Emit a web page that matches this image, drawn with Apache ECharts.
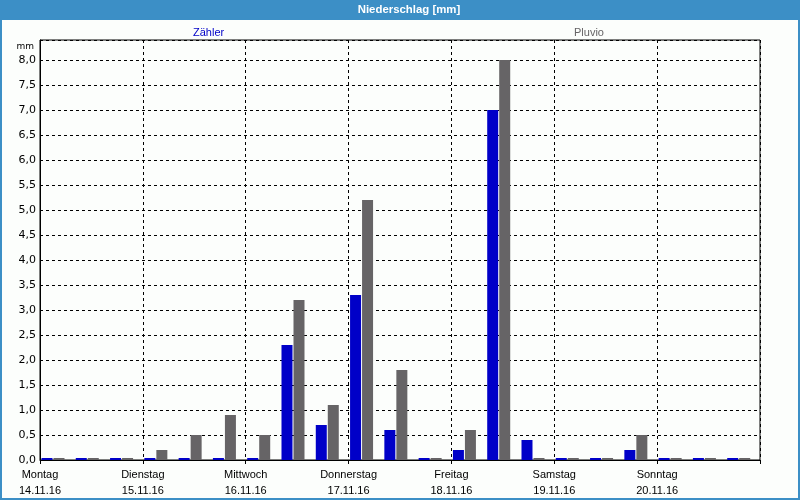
<!DOCTYPE html>
<html>
<head>
<meta charset="utf-8">
<script src="https://cdn.jsdelivr.net/npm/echarts@6/dist/echarts.min.js"></script>
<style>html,body{margin:0;padding:0;background:#fcfefc;}#c{width:800px;height:500px;}</style>
</head>
<body>
<div id="c"></div>
<script>
// 8-hour periods, 14.11.16 – 20.11.16
var periods = [
  '14.11. 00-08','14.11. 08-16','14.11. 16-24',
  '15.11. 00-08','15.11. 08-16','15.11. 16-24',
  '16.11. 00-08','16.11. 08-16','16.11. 16-24',
  '17.11. 00-08','17.11. 08-16','17.11. 16-24',
  '18.11. 00-08','18.11. 08-16','18.11. 16-24',
  '19.11. 00-08','19.11. 08-16','19.11. 16-24',
  '20.11. 00-08','20.11. 08-16','20.11. 16-24'
];
var dayNames = ['Montag','Dienstag','Mittwoch','Donnerstag','Freitag','Samstag','Sonntag'];
var dayDates = ['14.11.16','15.11.16','16.11.16','17.11.16','18.11.16','19.11.16','20.11.16'];
var zaehler = [0,0,0, 0,0,0, 0,2.3,0.7, 3.3,0.6,0, 0.2,7.0,0.4, 0,0,0.2, 0,0,0];
var pluvio  = [0,0,0, 0.2,0.5,0.9, 0.5,3.2,1.1, 5.2,1.8,0, 0.6,8.0,0, 0,0,0.5, 0,0,0];
var yTicks = {min: 0, max: 8.4, interval: 0.5};

var BLUE = '#0000c8', GRAY = '#666466', BAR = '#3c8fc6';
var FONT = '"Liberation Sans", Arial, sans-serif';
var FONT_Y = '"DejaVu Sans", Verdana, sans-serif';

var chart = echarts.init(document.getElementById('c'), null, {renderer: 'canvas'});
chart.setOption({
  animation: false,
  backgroundColor: '#fcfefc',
  textStyle: {fontFamily: FONT},
  graphic: [
    {type: 'rect', shape: {x: 0, y: 0, width: 800, height: 20}, style: {fill: BAR}, z: 10},
    {type: 'rect', shape: {x: 1, y: 1, width: 798, height: 498}, style: {fill: null, stroke: BAR, lineWidth: 2}, z: 10},
    {type: 'text', x: 409, y: 10, z: 11, style: {text: 'Niederschlag [mm]', fill: '#ffffff', font: 'bold 11.4px ' + FONT, textAlign: 'center', textVerticalAlign: 'middle'}},
    {type: 'text', x: 34, y: 47, z: 11, style: {text: 'mm', fill: '#000', font: '9px ' + FONT_Y, textAlign: 'right', textVerticalAlign: 'middle'}}
  ],
  legend: [
    {data: ['Zähler'], left: 183, top: 21, icon: 'none', itemWidth: 0, itemHeight: 14, selectedMode: false,
     textStyle: {color: BLUE, fontSize: 11, fontFamily: FONT}},
    {data: ['Pluvio'], left: 564, top: 21, icon: 'none', itemWidth: 0, itemHeight: 14, selectedMode: false,
     textStyle: {color: GRAY, fontSize: 11, fontFamily: FONT}}
  ],
  grid: {left: 40, right: 40, top: 40, bottom: 40, show: true, borderColor: '#000', borderWidth: 1, backgroundColor: 'transparent'},
  xAxis: [
    {type: 'category', data: periods, show: false, position: 'bottom'},
    {type: 'value', min: 0, max: periods.length, interval: 3, position: 'bottom',
     axisLine: {show: true, lineStyle: {color: '#000', width: 1}},
     axisTick: {show: true, length: 4, lineStyle: {color: '#000'}},
     axisLabel: {color: '#000', fontSize: 11, lineHeight: 16, margin: 7, fontFamily: FONT,
       formatter: function (v) { var d = Math.round(v / 3); return d < dayNames.length ? dayNames[d] + '\n' + dayDates[d] : ''; }},
     splitLine: {show: true, lineStyle: {color: '#000', type: [3, 3], width: 1}}}
  ],
  yAxis: {
    type: 'value', min: yTicks.min, max: yTicks.max, interval: yTicks.interval,
    axisLine: {show: true, lineStyle: {color: '#000', width: 1}},
    axisTick: {show: false},
    axisLabel: {color: '#000', fontSize: 11, margin: 4, fontFamily: FONT_Y, showMaxLabel: false,
      formatter: function (v) { return v > 8.01 ? '' : v.toFixed(1).replace('.', ','); }},
    splitLine: {show: true, lineStyle: {color: '#000', type: [3, 3], width: 1}}
  },
  series: [
    {name: 'Zähler', type: 'bar', xAxisIndex: 0, data: zaehler, barWidth: 11, barGap: '9.1%', barMinHeight: 2,
     itemStyle: {color: BLUE}},
    {name: 'Pluvio', type: 'bar', xAxisIndex: 0, data: pluvio, barWidth: 11, barGap: '9.1%', barMinHeight: 2,
     itemStyle: {color: GRAY}},
    {name: 'spacer', type: 'bar', xAxisIndex: 0, data: [], barWidth: 7.3, barGap: '9.1%', silent: true,
     itemStyle: {color: 'transparent'}}
  ]
});
</script>
</body>
</html>
